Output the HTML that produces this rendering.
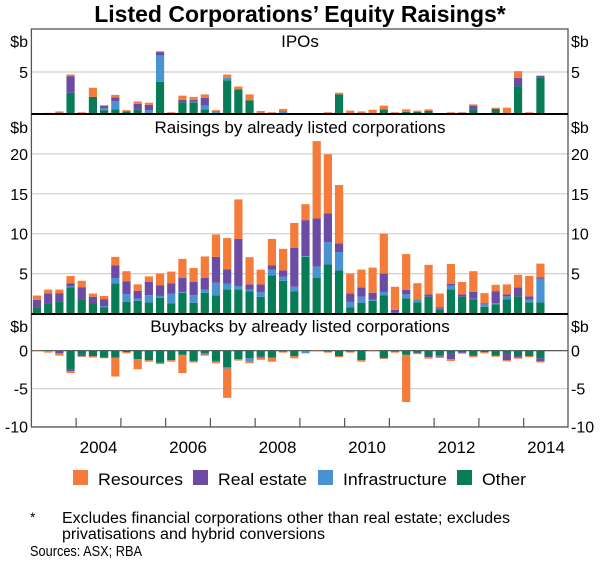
<!DOCTYPE html>
<html><head><meta charset="utf-8"><style>
body{margin:0;background:#fff;}
svg{display:block;font-family:"Liberation Sans",Arial,sans-serif;}
</style></head><body>
<svg id="chart" width="600" height="567" viewBox="0 0 600 567" xmlns="http://www.w3.org/2000/svg">
<text x="300" y="22" text-anchor="middle" font-size="23" font-weight="bold" fill="#000">Listed Corporations’ Equity Raisings*</text>
<g id="grid"></g>
<g id="bars"></g>
<g id="frame"></g>
<g id="labels"></g>
<g>
<rect x="73" y="470" width="15" height="15" fill="#f47b3a"/>
<text x="98" y="485" font-size="17" textLength="85" lengthAdjust="spacingAndGlyphs">Resources</text>
<rect x="193" y="470" width="15" height="15" fill="#6b4ba3"/>
<text x="218" y="485" font-size="17" textLength="89" lengthAdjust="spacingAndGlyphs">Real estate</text>
<rect x="318" y="470" width="15" height="15" fill="#4a92d2"/>
<text x="343" y="485" font-size="17" textLength="104" lengthAdjust="spacingAndGlyphs">Infrastructure</text>
<rect x="457" y="470" width="15" height="15" fill="#087c57"/>
<text x="482" y="485" font-size="17" textLength="44" lengthAdjust="spacingAndGlyphs">Other</text>
</g>
<text x="30" y="522" font-size="14">*</text>
<text x="62" y="523" font-size="15.5" textLength="448" lengthAdjust="spacingAndGlyphs">Excludes financial corporations other than real estate; excludes</text>
<text x="62" y="539" font-size="15.5" textLength="263" lengthAdjust="spacingAndGlyphs">privatisations and hybrid conversions</text>
<text x="30" y="556" font-size="15" textLength="112" lengthAdjust="spacingAndGlyphs">Sources:  ASX; RBA</text>
</svg>
<script>
const years=["2004","2006","2008","2010","2012","2014"];
const yearIdx=[1,3,5,7,9,11];
// IPOs
const ipoOther=[0,0,0,2.5,0,2,.4,.5,.25,.5,.1,3.8,0,1.35,1.35,.5,.1,4,2.9,1.6,0,0,0,0,0,0,0,2.3,0,0,0,.5,0,.2,.2,.3,0,0,0,.5,0,.55,0,3.3,0,4.3];
const ipoInfra=[0,0,0,0,0,0,.25,1,0,0,.3,3.2,0,0,.1,.45,.2,.3,0,0,0,0,.3,0,0,0,0,0,0,0,0,0,0,0,0,0,0,0,0,0,0,0,0,0,0,0];
const ipoReal=[0,0,.1,2,0,0,.25,.45,0,.65,.65,.4,0,.3,.2,.95,0,0,0,0,0,0,0,0,0,0,0,0,0,0,0,0,0,0,0,0,0,0,.1,.45,0,0,0,1,0,.25];
const ipoRes=[0,.08,.15,.2,.15,1.1,.1,.3,.15,.3,.25,.1,.15,.5,.35,.4,.1,.4,.35,.7,.3,.15,.25,0,0,0,.15,.2,.35,.25,.45,.45,.15,.3,.15,.2,0,.15,.05,.15,.05,.15,.7,.8,.15,0];
// Raisings by listed
const midOther=[.8,1.3,1.45,3.3,1.8,1.25,.8,3.75,1.45,1.6,1.4,1.95,1.25,2.6,1.35,2.6,2.25,3,3,2.8,2.1,4.8,4.1,2.8,7.1,4.45,6.15,5.4,.75,1.35,1.6,2.3,.1,1.9,1.4,2.1,.5,3,2.1,1.8,.85,1.15,1.75,2.15,1.4,1.4];
const midInfra=[0,0,0,.1,0,0,.1,.7,1,.25,.9,.25,1.25,.1,.95,.4,1.6,.75,.45,.2,.6,.7,.5,.55,.1,1.45,2.8,2.3,.7,.75,.15,.4,0,.5,.4,0,.1,.5,0,.05,.3,.15,.4,0,.35,2.95];
const midReal=[.9,1.2,1.1,.4,1.5,.85,.9,1.6,1.6,1,1.65,1.35,1.3,1.75,1.65,1.45,3.25,1.8,5.9,.65,.95,.55,.8,4.9,4.5,6,3.6,1.1,1.05,1.15,.85,2.3,.35,.55,0,.3,.15,.2,.3,.85,.1,1.5,.25,1.1,.4,.2];
const midRes=[.55,.5,.45,.9,.8,.4,.4,1.05,1.25,.8,.7,1.45,1.45,2.4,1.75,2.7,2.8,3.9,4.95,3.4,1.85,3.3,2.7,3.1,2,9.7,7.4,7.3,2.5,2.25,3.15,5,2.9,4.5,2,3.7,1.75,2.5,1.55,2.6,1.3,.8,1.25,1.6,2.55,1.7];
// Buybacks (magnitudes, drawn negative)
const buyOther=[0,.05,0,2.5,.55,.7,.9,.9,.2,1.1,1.25,1.6,1.25,.55,1.35,.3,1.35,2.15,1.1,1,.75,.9,.15,.7,.05,0,.15,.7,.15,1.25,0,.9,.15,.55,.25,.7,.6,.3,.2,.6,.2,.6,.3,.7,.7,1];
const buyInfra=[0,0,0,0,0,0,0,0,0,0,0,0,0,0,0,.2,.15,.2,0,.45,0,0,0,0,.25,0,0,0,0,0,0,0,0,0,0,0,0,0,0,0,0,0,0,0,0,0];
const buyReal=[0,0,.35,.2,.2,0,0,0,0,0,0,0,0,0,0,0,0,0,0,0,.15,0,0,0,0,0,0,0,0,0,0,.1,0,0,.1,.15,.2,.8,.1,.1,0,.1,.95,.2,0,.4];
const buyRes=[.05,.2,.3,.25,.05,.2,.1,2.5,.15,1.35,.2,.15,.2,2.4,.2,.15,.15,3.85,.2,.2,.3,.55,.1,.3,.05,.1,.1,.15,.1,.2,.1,.1,.1,6.2,.1,.2,.15,.25,.1,.15,.15,.1,.15,.15,.15,.15];

const NS="http://www.w3.org/2000/svg";
const X0=31.4,X1=568,YW=44.75,QW=YW/4,BW=8.2,BOT=427;
const colors=["#087c57","#4a92d2","#6b4ba3","#f47b3a"];
const names=["other","infrastructure","real-estate","resources"];
const panels=[
 {key:"ipo",zero:113.5,scale:8.3,ticks:[5],title:"IPOs",series:[ipoOther,ipoInfra,ipoReal,ipoRes],sign:1,labelY:41},
 {key:"raisings",zero:313.5,scale:7.98,ticks:[5,10,15,20],title:"Raisings by already listed corporations",series:[midOther,midInfra,midReal,midRes],sign:1,labelY:127},
 {key:"buybacks",zero:350.7,scale:7.6,ticks:[0,-5,-10],title:"Buybacks by already listed corporations",series:[buyOther,buyInfra,buyReal,buyRes],sign:-1,labelY:326}
];
function xOf(i){return X0+(i+0.5)*QW;}
function mk(tag,attrs,parent){const e=document.createElementNS(NS,tag);for(const k in attrs)e.setAttribute(k,attrs[k]);parent.appendChild(e);return e;}
const gGrid=document.getElementById('grid'),gBars=document.getElementById('bars'),gFrame=document.getElementById('frame'),gLab=document.getElementById('labels');
panels.forEach(p=>{
 const yOf=v=>p.zero-v*p.scale;
 p.ticks.forEach(t=>{
  const y=yOf(t);
  if(t!==0||p.sign<0){
   const l=mk('line',{x1:X0,x2:X1,y1:y,y2:y,stroke:t===0?'#444':'#cfcfcf','stroke-width':1.2},gGrid);
   
   
  }
  const tl=mk('text',{x:28,y:y+6,'text-anchor':'end','font-size':16},gLab);tl.textContent=String(t);
  
  
  const tr=mk('text',{x:571,y:y+6,'font-size':16},gLab);tr.textContent=String(t);
  
  
 });
 const n=p.series[0].length;
 for(let i=0;i<n;i++){
  let acc=0;
  for(let s=0;s<4;s++){
   const v=p.series[s][i];if(!v)continue;
   const y1=yOf(p.sign*acc),y2=yOf(p.sign*(acc+v));acc+=v;
   const r=mk('rect',{x:xOf(i)-BW/2,y:Math.min(y1,y2),width:BW,height:Math.abs(y2-y1),fill:colors[s]},gBars);
   
   
  }
 }
 const t=mk('text',{x:300,y:p.labelY+6,'text-anchor':'middle','font-size':17},gLab);t.textContent=p.title;
 
 
 const u1=mk('text',{x:28,y:p.labelY+6,'text-anchor':'end','font-size':16},gLab);u1.textContent='$b';
 
 
 const u2=mk('text',{x:571,y:p.labelY+6,'font-size':16},gLab);u2.textContent='$b';
 
 
});
const fr=mk('rect',{x:X0,y:29,width:X1-X0,height:BOT-29,fill:'none',stroke:'#555','stroke-width':1.3},gFrame);


[114,314].forEach(y=>{
 const l=mk('line',{x1:X0,x2:X1,y1:y,y2:y,stroke:'#000','stroke-width':2},gFrame);
 
 
});
for(let k=1;k<12;k++){
 const x=X0+k*YW;
 const tk=mk('line',{x1:x,x2:x,y1:BOT,y2:BOT-9,stroke:'#555','stroke-width':1.2},gFrame);
 
 
}
years.forEach((yr,j)=>{
 const x=X0+(yearIdx[j]+0.5)*YW;
 const t=mk('text',{x:x,y:453,'text-anchor':'middle','font-size':17},gLab);t.textContent=yr;
 
 
});
</script>
</body></html>
